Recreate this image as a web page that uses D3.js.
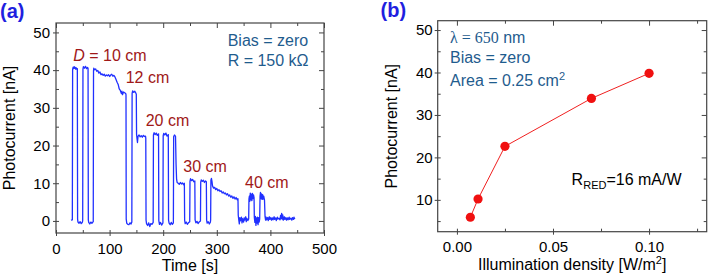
<!DOCTYPE html>
<html>
<head>
<meta charset="utf-8">
<script src="https://cdn.jsdelivr.net/npm/d3@7"></script>
<style>
body { margin: 0; background: #fff; }
svg text { font-family: "Liberation Sans", Arial, sans-serif; }
svg tspan.serif { font-family: "Liberation Serif", "DejaVu Serif", "Times New Roman", serif; }
</style>
</head>
<body>
<svg id="chart" width="709" height="278"></svg>
<script>
// ---- panel (a): photocurrent trace ----
var timeS = [28, 30.5, 31, 32, 33, 34, 35, 36, 37, 38, 39, 39.8,
    40.3, 41, 43, 45, 47, 49, 49.8,
    50.3, 51, 53, 55, 57, 59, 59.8,
    60.3, 61, 63, 65, 67, 69.5,
    70, 70.5, 72, 74, 76, 78, 80, 82, 84, 86, 88, 90, 92, 94, 96, 98, 100, 102, 104, 106, 108, 110,
    112, 114, 116, 118, 120, 122, 123, 124, 126, 128, 130, 130.6,
    131, 132, 134, 136, 138, 140, 141.5,
    142, 143, 145, 147, 149, 149.8,
    150.3, 151, 152, 153, 155, 157, 159, 161, 163, 165, 167, 167.5,
    168, 169, 171, 173, 175, 177, 179, 181.3,
    181.8, 183, 185, 187, 189, 191.3,
    191.8, 193, 195, 197, 199.5,
    200, 201, 203, 205, 207, 209.5,
    210, 211, 213, 215, 217, 219,
    219.5, 221, 223, 224, 225, 226, 228, 230, 232, 234, 236, 238, 239.5,
    240, 241, 243, 245, 247, 249.5,
    250, 251, 253, 255, 257, 259,
    259.5, 261, 263, 265, 267, 269.5,
    270, 271, 273, 275, 277, 279, 280.5,
    281, 282, 284, 286, 288, 288.5,
    289, 290, 291, 292, 294, 296, 298, 300, 302, 304, 306, 308, 310, 312, 314, 316, 318, 320,
    322, 324, 326, 328, 330, 332, 334, 336, 338, 339.5,
    340, 341, 342, 343, 344, 346, 347, 348, 350, 351, 352, 354, 355, 356, 358, 359.5,
    360, 360.8, 361.5, 362.5, 363.5, 364.5, 365.5, 366.5, 367.5, 368.5, 369.5,
    370, 371, 372, 373, 374, 375, 376, 377, 378, 379, 380,
    380.7, 381.5, 382.5, 383.5, 384.5, 385.5, 386.5, 387.5, 389,
    390, 391, 392, 393, 395, 396, 398, 399, 401, 402, 404, 405, 407, 408, 410, 411, 413, 414,
    416, 418, 419, 420, 421, 422, 423, 424, 426, 427, 429, 430, 432, 433, 435, 436, 438, 440,
    441, 443, 444, 445, 446];
var currentNA = [0.2, 0.3, 40.2, 40.8, 40.4, 40.9, 40.5, 40.7, 40.2, 40.6, 40.3, 40.4,
    0.5, -0.3, -0.6, -0.2, -0.7, -0.4, 0,
    40.3, 40.9, 40.5, 41.0, 40.4, 40.7, 40.5,
    0.3, -0.4, -0.8, -0.3, -0.6, -0.2,
    39.8, 40.5, 40.1, 40.3, 39.7, 39.9, 39.2, 39.5, 38.8, 39.0, 38.6, 38.9, 38.4, 38.7, 38.5, 38.8, 38.3, 38.7, 38.9, 38.4, 38.6, 38.2,
    37.5, 36.8, 36.2, 35.0, 34.6, 33.8, 34.4, 33.5, 34.2, 34.0, 33.8, 33.5,
    0.5, -0.6, -0.9, -1.0, -0.5, -0.8, -0.3,
    33.8, 34.5, 34.1, 34.4, 33.9, 33.6,
    23.0, 22.0, 20.8, 22.4, 22.8, 22.3, 22.6, 22.2, 22.7, 22.4, 22.5, 22.0,
    0.2, -0.8, -1.2, -0.5, -1.5, -0.7, -0.9, -0.4,
    22.8, 23.4, 22.9, 23.3, 22.7, 23.1,
    0.1, -0.9, -0.4, -1.1, -0.5,
    22.6, 23.2, 22.8, 23.3, 22.5, 22.9,
    0.2, -0.6, -1.0, -0.4, -0.9, -0.5,
    22.3, 22.8, 22.4, 15, 11, 10.2, 10.0, 9.7, 10.2, 9.8, 10.1, 9.6, 10.0,
    0.2, -0.7, -0.3, -0.9, -0.5, -0.2,
    10.5, 11.2, 10.7, 11.0, 10.4, 10.6,
    0.3, -0.5, -0.1, -0.7, -0.3, 0.0,
    10.3, 10.9, 10.5, 10.8, 10.2, 10.6, 10.4,
    0.2, -0.6, -0.2, -0.8, -0.3, 0.3,
    10.8, 11.3, 10.5, 9.3, 8.7, 8.9, 8.3, 8.6, 8.0, 8.3, 7.8, 8.0, 7.4, 7.7, 7.2, 7.4, 6.9, 7.2,
    6.6, 6.9, 6.3, 6.6, 6.0, 6.4, 5.8, 6.2, 5.6, 5.9,
    1.5, 0.3, -0.8, 0.9, 0.0, 1.0, -0.5, 0.6, -0.3, 0.8, 0.2, 1.1, -0.2, 0.7, 0.1, 0.5,
    5.8, 6.6, 5.2, 7.4, 5.6, 7.1, 5.4, 7.3, 5.9, 6.9, 6.2,
    1.0, -0.4, 1.2, -1.2, 0.8, -0.6, 1.0, -1.0, 0.9, -0.3, 0.5,
    6.5, 7.6, 5.9, 7.2, 5.7, 7.0, 5.8, 6.6, 5.5,
    1.2, 0.2, 1.0, 0.3, 0.9, 0.1, 1.1, 0.4, 0.9, 0.2, 0.8, 0.3, 1.1, 0.4, 0.8, 0.1, 1.0, 0.5,
    0.7, 0.3, 1.5, 0.6, 2.0, 0.5, 1.6, 0.2, 1.1, 0.4, 0.9, 0.2, 0.8, 0.3, 1.0, 0.4, 0.7, 0.2,
    0.9, 0.4, 1.0, 0.6, 0.7];
var distanceLabels = ['10 cm', '12 cm', '20 cm', '30 cm', '40 cm'];

// ---- panel (b): photocurrent vs illumination density ----
var densityWm2 = [0.007, 0.011, 0.025, 0.070, 0.100];
var photoNA = [5.9, 10.2, 22.6, 33.9, 39.8];

// tick labels
var timeTicks = [0, 100, 200, 300, 400, 500];
var timeMinor = [50, 150, 250, 350, 450];
var currentTicksA = [0, 10, 20, 30, 40, 50];
var currentMinorA = [5, 15, 25, 35, 45];
var densityTicks = [0.00, 0.05, 0.10];
var densityMinor = [0.025, 0.075, 0.125];
var currentTicksB = [10, 20, 30, 40, 50];
var currentMinorB = [5, 15, 25, 35, 45];

var svg = d3.select('#chart');
var frameColor = '#444';
var noteBlue = '#1f5c8e';
var noteRed = '#a01818';

// Draws the box frame with crossing major ticks on left/bottom
// and inward ticks on the mirrored top/right sides
function drawFrame(g, x, y, w, h, xMaj, xMin, yMaj, yMin, xFmt, yFmt, yPad) {
    g.append('g').attr('transform', 'translate(0,' + h + ')')
        .call(d3.axisBottom(x).tickValues(xMin).tickSize(-3).tickFormat(''));
    g.append('g')
        .call(d3.axisTop(x).tickValues(xMin).tickSize(-3).tickFormat(''));
    g.append('g')
        .call(d3.axisLeft(y).tickValues(yMin).tickSize(-3).tickFormat(''));
    g.append('g').attr('transform', 'translate(' + w + ',0)')
        .call(d3.axisRight(y).tickValues(yMin).tickSize(-3).tickFormat(''));

    g.append('g').attr('class', 'lab').attr('transform', 'translate(0,' + (h - 3) + ')')
        .call(d3.axisBottom(x).tickValues(xMaj).tickSize(6).tickPadding(7).tickFormat(xFmt));
    g.append('g')
        .call(d3.axisTop(x).tickValues(xMaj).tickSize(-5).tickFormat(''));
    g.append('g').attr('class', 'lab').attr('transform', 'translate(3,0)')
        .call(d3.axisLeft(y).tickValues(yMaj).tickSize(6).tickPadding(yPad).tickFormat(yFmt));
    g.append('g').attr('transform', 'translate(' + w + ',0)')
        .call(d3.axisRight(y).tickValues(yMaj).tickSize(-5).tickFormat(''));

    g.selectAll('.domain').remove();
    g.selectAll('.tick line').attr('stroke', frameColor).attr('stroke-width', 1);
    g.selectAll('.lab text')
        .attr('fill', '#000')
        .style('font-size', '15px')
        .style('font-family', '"Liberation Sans", Arial, sans-serif');

    g.append('rect')
        .attr('width', w).attr('height', h)
        .attr('fill', 'none')
        .attr('stroke', frameColor)
        .attr('stroke-width', 1.2);
}

// ================= panel (a) =================
var padA = {l: 56, t: 23, w: 268, h: 210};
var gA = svg.append('g').attr('transform', 'translate(' + [padA.l, padA.t] + ')');
var xA = d3.scaleLinear().domain([0, 500]).range([0, padA.w]);
var yA = d3.scaleLinear().domain([-3.2, 52.5]).range([padA.h, 0]);

gA.append('clipPath').attr('id', 'clipA')
    .append('rect').attr('width', padA.w).attr('height', padA.h);

var trace = timeS.map(function(t, i) { return [t, currentNA[i]]; });
gA.append('path')
    .datum(trace)
    .attr('clip-path', 'url(#clipA)')
    .attr('fill', 'none')
    .attr('stroke', '#2030ff')
    .attr('stroke-width', 1.3)
    .attr('stroke-linejoin', 'round')
    .attr('d', d3.line()
        .x(function(d) { return xA(d[0]); })
        .y(function(d) { return yA(d[1]); }));

drawFrame(gA, xA, yA, padA.w, padA.h, timeTicks, timeMinor, currentTicksA, currentMinorA,
    d3.format('d'), d3.format('d'), 3);

// distance notes, anchored in data units
var distAnchors = [[32.3, 42.4], [130, 36.5], [167.4, 25.2], [237.5, 13.05], [352.6, 8.65]];
distanceLabels.forEach(function(lab, i) {
    var t = gA.append('text')
        .attr('x', xA(distAnchors[i][0]))
        .attr('y', yA(distAnchors[i][1]))
        .attr('fill', noteRed)
        .style('font-size', '16px');
    if (i === 0) {
        t.append('tspan').style('font-style', 'italic').text('D');
        t.append('tspan').text(' = ' + lab);
    } else {
        t.text(lab);
    }
});

gA.append('text')
    .attr('x', xA(320.3)).attr('y', yA(46.5))
    .attr('fill', noteBlue).style('font-size', '16px')
    .text('Bias = zero');
gA.append('text')
    .attr('x', xA(320.3)).attr('y', yA(41.2))
    .attr('fill', noteBlue).style('font-size', '16px')
    .text('R = 150 k\u03A9');

svg.append('text')
    .attr('x', padA.l + padA.w / 2).attr('y', 270.5)
    .attr('text-anchor', 'middle').style('font-size', '16px')
    .text('Time [s]');
svg.append('text')
    .attr('transform', 'translate(' + [15, padA.t + padA.h / 2] + ') rotate(-90)')
    .attr('text-anchor', 'middle').style('font-size', '16px')
    .text('Photocurrent [nA]');
svg.append('text')
    .attr('x', 0).attr('y', 18)
    .attr('fill', '#1f1fe0').style('font-size', '20px').style('font-weight', 'bold')
    .text('(a)');

// ================= panel (b) =================
var padB = {l: 437.7, t: 20.7, w: 269, h: 211};
var gB = svg.append('g').attr('transform', 'translate(' + [padB.l, padB.t] + ')');
var xB = d3.scaleLinear().domain([-0.01, 0.13]).range([0, padB.w]);
var yB = d3.scaleLinear().domain([2.5, 52.2]).range([padB.h, 0]);

var pts = densityWm2.map(function(d, i) { return [d, photoNA[i]]; });
gB.append('path')
    .datum(pts)
    .attr('fill', 'none')
    .attr('stroke', '#f02020')
    .attr('stroke-width', 1)
    .attr('d', d3.line()
        .x(function(d) { return xB(d[0]); })
        .y(function(d) { return yB(d[1]); }));
gB.selectAll('.pt')
    .data(pts)
    .enter()
    .append('circle')
    .attr('class', 'pt')
    .attr('cx', function(d) { return xB(d[0]); })
    .attr('cy', function(d) { return yB(d[1]); })
    .attr('r', 4.6)
    .attr('fill', '#f01010');

drawFrame(gB, xB, yB, padB.w, padB.h, densityTicks, densityMinor, currentTicksB, currentMinorB,
    d3.format('.2f'), d3.format('d'), 2);

var lam = gB.append('text')
    .attr('x', xB(-0.0036)).attr('y', yB(47.0))
    .attr('fill', noteBlue).style('font-size', '16px');
lam.append('tspan').attr('class', 'serif').text('\u03BB = 650');
lam.append('tspan').text(' nm');

gB.append('text')
    .attr('x', xB(-0.0036)).attr('y', yB(42.2))
    .attr('fill', noteBlue).style('font-size', '16px')
    .text('Bias = zero');

var area = gB.append('text')
    .attr('x', xB(-0.0036)).attr('y', yB(36.8))
    .attr('fill', noteBlue).style('font-size', '16px');
area.append('tspan').text('Area = 0.25 cm');
area.append('tspan').attr('dy', -6).style('font-size', '11px').text('2');

var resp = gB.append('text')
    .attr('x', xB(0.0597)).attr('y', yB(13.5))
    .attr('fill', '#000').style('font-size', '16px');
resp.append('tspan').text('R');
resp.append('tspan').attr('dy', 4).style('font-size', '11px').text('RED');
resp.append('tspan').attr('dy', -4).text('=16 mA/W');

var xTitle = svg.append('text')
    .attr('x', padB.l + padB.w / 2).attr('y', 270)
    .attr('text-anchor', 'middle').style('font-size', '16px');
xTitle.append('tspan').text('Illumination density [W/m');
xTitle.append('tspan').attr('dy', -6).style('font-size', '11px').text('2');
xTitle.append('tspan').attr('dy', 6).text(']');

svg.append('text')
    .attr('transform', 'translate(' + [397, padB.t + padB.h / 2] + ') rotate(-90)')
    .attr('text-anchor', 'middle').style('font-size', '16px')
    .text('Photocurrent [nA]');
svg.append('text')
    .attr('x', 380.5).attr('y', 17)
    .attr('fill', '#1f1fe0').style('font-size', '20px').style('font-weight', 'bold')
    .text('(b)');
</script>
</body>
</html>
